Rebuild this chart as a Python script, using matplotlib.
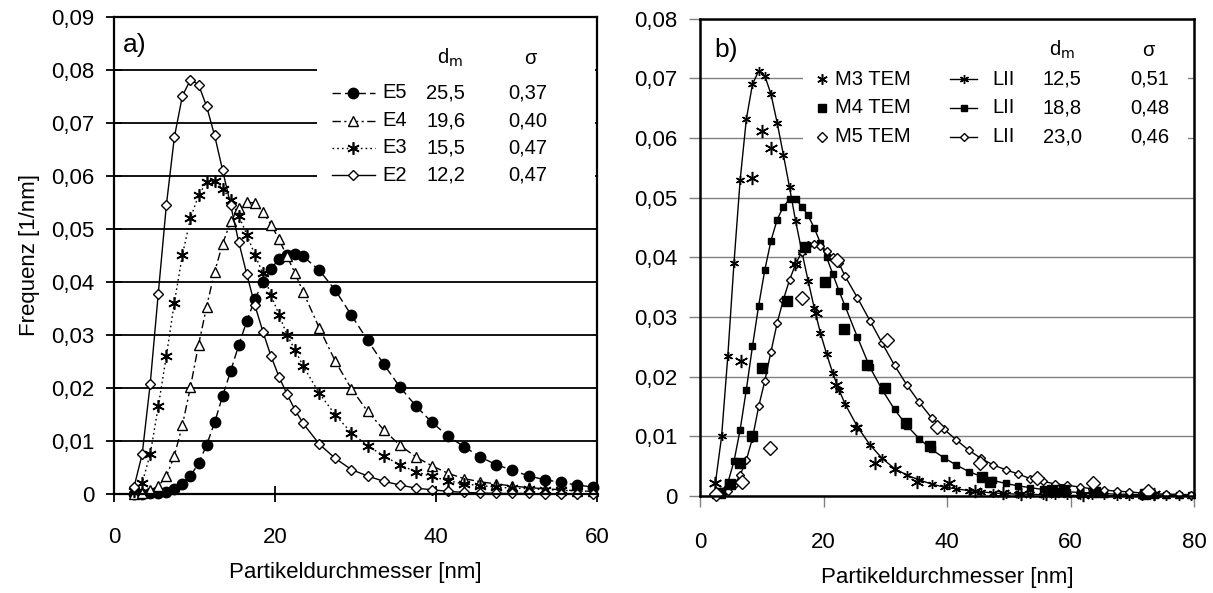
import numpy as np
import matplotlib.pyplot as plt
from matplotlib.patches import Rectangle

plt.rcParams['font.family'] = ['Liberation Sans', 'DejaVu Sans']

# ---- panel a: E-series (x grid in nm) ----
xa = [2.5, 3.5, 4.5, 5.5, 6.5, 7.5, 8.5, 9.5, 10.5, 11.5, 12.5, 13.5, 14.5,
      15.5, 16.5, 17.5, 18.5, 19.5, 20.5, 21.5, 22.5, 23.5, 25.5, 27.5, 29.5,
      31.5, 33.5, 35.5, 37.5, 39.5, 41.5, 43.5, 45.5, 47.5, 49.5, 51.5, 53.5,
      55.5, 57.5, 59.5]
e5 = [0.0, 0.0, 0.0001, 0.0002, 0.0004, 0.0009, 0.0019, 0.0034, 0.0058, 0.0092,
      0.0135, 0.0185, 0.0232, 0.0281, 0.0326, 0.0367, 0.0400, 0.0425, 0.0443,
      0.0451, 0.0452, 0.0448, 0.0422, 0.0384, 0.0337, 0.0290, 0.0245, 0.0202,
      0.0166, 0.0135, 0.0109, 0.0089, 0.0070, 0.0055, 0.0045, 0.0034, 0.0027,
      0.0022, 0.0017, 0.0013]
e4 = [0.0, 0.0002, 0.0007, 0.0015, 0.0033, 0.0072, 0.0130, 0.0202, 0.0281,
      0.0353, 0.0419, 0.0472, 0.0514, 0.0539, 0.0550, 0.0549, 0.0532, 0.0508,
      0.0480, 0.0448, 0.0416, 0.0381, 0.0313, 0.0250, 0.0198, 0.0156, 0.0121,
      0.0092, 0.0070, 0.0053, 0.0039, 0.0029, 0.0023, 0.0019, 0.0015, 0.0012,
      0.0010, 0.0008, 0.0006, 0.0005]
e3 = [0.0005, 0.0021, 0.0075, 0.0165, 0.0260, 0.0361, 0.0451, 0.0520, 0.0563,
      0.0588, 0.0590, 0.0576, 0.0554, 0.0525, 0.0489, 0.0451, 0.0416, 0.0375,
      0.0338, 0.0300, 0.0271, 0.0241, 0.0190, 0.0149, 0.0115, 0.0091, 0.0072,
      0.0055, 0.0042, 0.0033, 0.0025, 0.0019, 0.0016, 0.0013, 0.0011, 0.0010,
      0.0008, 0.0007, 0.0006, 0.0005]
e2 = [0.0014, 0.0075, 0.0208, 0.0378, 0.0544, 0.0673, 0.0751, 0.0781, 0.0772,
      0.0731, 0.0676, 0.0610, 0.0544, 0.0475, 0.0414, 0.0356, 0.0306, 0.0260,
      0.0221, 0.0188, 0.0158, 0.0133, 0.0094, 0.0067, 0.0046, 0.0034, 0.0024,
      0.0017, 0.0011, 0.0008, 0.0005, 0.0003, 0.0002, 0.0001, 0.0001, 0.0001,
      0.0, 0.0, 0.0, 0.0]
names_a = ['E5', 'E4', 'E3', 'E2']
dm_a = ['25,5', '19,6', '15,5', '12,2']
sig_a = ['0,37', '0,40', '0,47', '0,47']

# ---- panel b: LII fits and TEM histograms ----
xb = [2.5, 3.5, 4.5, 5.5, 6.5, 7.5, 8.5, 9.5, 10.5, 11.5, 12.5, 13.5, 14.5,
      15.5, 16.5, 17.5, 18.5, 19.5, 20.5, 21.5, 22.5, 23.5, 25.5, 27.5, 29.5,
      31.5, 33.5, 35.5, 37.5, 39.5, 41.5, 43.5, 45.5, 47.5, 49.5, 51.5, 53.5,
      55.5, 57.5, 59.5, 61.5, 63.5, 65.5, 67.5, 69.5, 71.5, 73.5, 75.5, 77.5,
      79.5]
m3_lii = [0.0022, 0.0100, 0.0234, 0.0390, 0.0529, 0.0631, 0.0690, 0.0712,
          0.0704, 0.0673, 0.0625, 0.0572, 0.0517, 0.0460, 0.0409, 0.0361,
          0.0315, 0.0273, 0.0238, 0.0206, 0.0178, 0.0154, 0.0116, 0.0086,
          0.0063, 0.0046, 0.0035, 0.0027, 0.0020, 0.0015, 0.0012, 0.0009,
          0.0007, 0.0005, 0.0004, 0.0003, 0.0003, 0.0002, 0.0002, 0.0001,
          0.0001, 0.0001, 0.0001, 0.0, 0.0, 0.0, 0.0, 0.0, 0.0, 0.0]
m4_lii = [0.0002, 0.0008, 0.0022, 0.0058, 0.0111, 0.0178, 0.0251, 0.0319,
          0.0379, 0.0428, 0.0463, 0.0485, 0.0497, 0.0497, 0.0485, 0.0470,
          0.0449, 0.0424, 0.0400, 0.0372, 0.0344, 0.0318, 0.0266, 0.0216,
          0.0178, 0.0145, 0.0118, 0.0096, 0.0078, 0.0064, 0.0052, 0.0041,
          0.0033, 0.0026, 0.0021, 0.0017, 0.0014, 0.0011, 0.0009, 0.0007,
          0.0006, 0.0005, 0.0004, 0.0003, 0.0003, 0.0002, 0.0002, 0.0001,
          0.0001, 0.0001]
m5_lii = [0.0001, 0.0003, 0.0008, 0.0018, 0.0035, 0.0060, 0.0097, 0.0150,
          0.0193, 0.0242, 0.0290, 0.0329, 0.0362, 0.0389, 0.0409, 0.0420,
          0.0422, 0.0419, 0.0411, 0.0400, 0.0390, 0.0368, 0.0332, 0.0294,
          0.0256, 0.0219, 0.0186, 0.0157, 0.0131, 0.0112, 0.0094, 0.0077,
          0.0063, 0.0052, 0.0044, 0.0037, 0.0029, 0.0025, 0.0020, 0.0018,
          0.0015, 0.0012, 0.0010, 0.0008, 0.0007, 0.0005, 0.0004, 0.0003,
          0.0003, 0.0002]
m3_tem_x = [2.4, 6.6, 8.4, 10.0, 11.5, 15.4, 18.8, 22.1, 25.3, 28.4, 31.6,
            35.1, 40.3, 44.5, 49.0, 52.0, 56.0, 62.0, 73.5]
m3_tem = [0.0022, 0.0226, 0.0533, 0.0611, 0.0583, 0.0388, 0.0306, 0.0186,
          0.0114, 0.0056, 0.0045, 0.0024, 0.0021, 0.0008, 0.0005, 0.0004,
          0.0003, 0.0002, 0.0004]
m4_tem_x = [3.3, 4.9, 6.5, 8.4, 10.0, 14.1, 17.0, 20.3, 23.4, 27.0, 30.0,
            33.4, 37.2, 45.6, 47.0, 57.0, 59.0, 64.0, 72.0]
m4_tem = [0.0005, 0.0020, 0.0055, 0.0100, 0.0214, 0.0326, 0.0418, 0.0358,
          0.0279, 0.0220, 0.0181, 0.0122, 0.0083, 0.0032, 0.0024, 0.0010,
          0.0010, 0.0007, 0.0003]
m5_tem_x = [2.6, 6.8, 11.4, 16.5, 22.2, 30.3, 38.3, 45.4, 54.6, 63.7, 72.6]
m5_tem = [0.0003, 0.0024, 0.0080, 0.0332, 0.0396, 0.0261, 0.0115, 0.0055,
          0.0030, 0.0022, 0.0009]
names_b = ['M3 TEM', 'M4 TEM', 'M5 TEM']
dm_b = ['12,5', '18,8', '23,0']
sig_b = ['0,51', '0,48', '0,46']

TICK_FS = 16
LAB_FS = 16
LEG_FS = 14.5


def comma(v, pos=None):
    if v == 0:
        return '0'
    return ('%.2f' % v).replace('.', ',')


fig = plt.figure(figsize=(12.13, 5.93), dpi=100)

# ================= panel a =================
ax = fig.add_axes([114 / 1213, 99 / 593, 483 / 1213, 477.3 / 593])
ax.set_axisbelow(True)
sty_a = [
    dict(ls=(0, (6, 3)), marker='o', mfc='black', ms=7.5),
    dict(ls=(0, (6, 2.5, 1.5, 2.5)), marker='^', mfc='white', ms=7.5),
    dict(ls=(0, (1.2, 2.2)), marker=(6, 2, 0), mfc='black', ms=9, mew=1.2),
    dict(ls='-', marker='D', mfc='white', ms=5.5),
]
for ys, st in zip([e5, e4, e3, e2], sty_a):
    ax.plot(xa, ys, color='black', lw=1.0, mec='black', clip_on=False, **st)

ax.set_xlim(0, 60)
ax.set_ylim(0, 0.09)
ax.set_xticks([0, 20, 40, 60])
ax.set_yticks(np.arange(0, 0.0901, 0.01))
ax.yaxis.set_major_formatter(plt.FuncFormatter(comma))
ax.yaxis.grid(True, color='black', lw=1.3)
for s in ax.spines.values():
    s.set_linewidth(1.6)
ax.tick_params(axis='both', direction='inout', length=12, width=1.3,
               labelsize=TICK_FS)
ax.tick_params(axis='y', pad=8)
ax.tick_params(axis='x', pad=18)
ax.set_ylabel('Frequenz [1/nm]', fontsize=LAB_FS, labelpad=8)
ax.set_xlabel('Partikeldurchmesser [nm]', fontsize=LAB_FS, labelpad=10)

ax.add_patch(Rectangle((0.42, 0.626), 0.575, 0.37, transform=ax.transAxes,
                       facecolor='white', edgecolor='none', zorder=2.5))
ax.text(0.019, 0.94, 'a)', transform=ax.transAxes, fontsize=19,
        va='center', ha='left', zorder=4)
ax.text(0.696, 0.913, r'd$_\mathrm{m}$', transform=ax.transAxes,
        fontsize=LEG_FS, ha='center', va='center', zorder=4)
ax.text(0.861, 0.913, 'σ', transform=ax.transAxes, fontsize=LEG_FS,
        ha='center', va='center', zorder=4)
rows_a = [0.841, 0.782, 0.725, 0.668]
for ry, st, nm, dm, sg in zip(rows_a, sty_a, names_a, dm_a, sig_a):
    ax.plot([0.451, 0.540], [ry, ry], transform=ax.transAxes, color='black',
            lw=1.0, ls=st['ls'], zorder=4, clip_on=False)
    ax.plot([0.4955], [ry], transform=ax.transAxes, color='black',
            marker=st['marker'], mfc=st['mfc'], mec='black', ms=st['ms'],
            mew=st.get('mew', 1.0), zorder=4.5, clip_on=False)
    ax.text(0.555, ry, nm, transform=ax.transAxes, fontsize=LEG_FS,
            va='center', ha='left', zorder=4)
    ax.text(0.687, ry, dm, transform=ax.transAxes, fontsize=LEG_FS,
            va='center', ha='center', zorder=4)
    ax.text(0.857, ry, sg, transform=ax.transAxes, fontsize=LEG_FS,
            va='center', ha='center', zorder=4)

# ================= panel b =================
bx = fig.add_axes([700 / 1213, 97 / 593, 494 / 1213, 477.5 / 593])
bx.set_axisbelow(True)
lii_sty = [dict(marker=(6, 2, 0), ms=6.5, mfc='black'),
           dict(marker='s', ms=4.5, mfc='black'),
           dict(marker='D', ms=4, mfc='white')]
tem_sty = [dict(marker=(6, 2, 0), ms=9.5, mfc='black', mew=1.1),
           dict(marker='s', ms=7.5, mfc='black'),
           dict(marker='D', ms=7, mfc='white')]
for ys, st in zip([m3_lii, m4_lii, m5_lii], lii_sty):
    bx.plot(xb, ys, color='black', lw=1.0, mec='black', clip_on=False, **st)
for tx, ty, st in zip([m3_tem_x, m4_tem_x, m5_tem_x],
                      [m3_tem, m4_tem, m5_tem], tem_sty):
    bx.plot(tx, ty, ls='none', color='black', mec='black', clip_on=False, **st)

bx.set_xlim(0, 80)
bx.set_ylim(0, 0.08)
bx.set_xticks([0, 20, 40, 60, 80])
bx.set_yticks(np.arange(0, 0.0801, 0.01))
bx.yaxis.set_major_formatter(plt.FuncFormatter(comma))
bx.yaxis.grid(True, color='#808080', lw=1.0)
for s in bx.spines.values():
    s.set_linewidth(1.8)
bx.tick_params(axis='both', direction='out', length=8, width=1.0,
               color='#808080', labelsize=TICK_FS)
bx.tick_params(axis='y', pad=8)
bx.tick_params(axis='x', pad=18)
bx.set_xlabel('Partikeldurchmesser [nm]', fontsize=LAB_FS, labelpad=10)

bx.add_patch(Rectangle((0.2085, 0.70), 0.78, 0.295, transform=bx.transAxes,
                       facecolor='white', edgecolor='none', zorder=2.5))
bx.text(0.030, 0.934, 'b)', transform=bx.transAxes, fontsize=19,
        va='center', ha='left', zorder=4)
bx.text(0.733, 0.934, r'd$_\mathrm{m}$', transform=bx.transAxes,
        fontsize=LEG_FS, ha='center', va='center', zorder=4)
bx.text(0.907, 0.934, 'σ', transform=bx.transAxes, fontsize=LEG_FS,
        ha='center', va='center', zorder=4)
rows_b = [0.873, 0.8126, 0.752]
for ry, ls_, ts, nm, dm, sg in zip(rows_b, lii_sty, tem_sty, names_b, dm_b,
                                   sig_b):
    bx.plot([0.247], [ry], transform=bx.transAxes, color='black',
            marker=ts['marker'], mfc=ts['mfc'], mec='black',
            ms=ts['ms'] * 0.8, mew=ts.get('mew', 1.0), zorder=4.5,
            clip_on=False)
    bx.text(0.273, ry, nm, transform=bx.transAxes, fontsize=LEG_FS,
            va='center', ha='left', zorder=4)
    bx.plot([0.506, 0.561], [ry, ry], transform=bx.transAxes, color='black',
            lw=1.0, zorder=4, clip_on=False)
    bx.plot([0.5335], [ry], transform=bx.transAxes, color='black',
            marker=ls_['marker'], mfc=ls_['mfc'], mec='black', ms=ls_['ms'],
            zorder=4.5, clip_on=False)
    bx.text(0.591, ry, 'LII', transform=bx.transAxes, fontsize=LEG_FS,
            va='center', ha='left', zorder=4)
    bx.text(0.733, ry, dm, transform=bx.transAxes, fontsize=LEG_FS,
            va='center', ha='center', zorder=4)
    bx.text(0.911, ry, sg, transform=bx.transAxes, fontsize=LEG_FS,
            va='center', ha='center', zorder=4)

fig.savefig('out.png', dpi=100)
